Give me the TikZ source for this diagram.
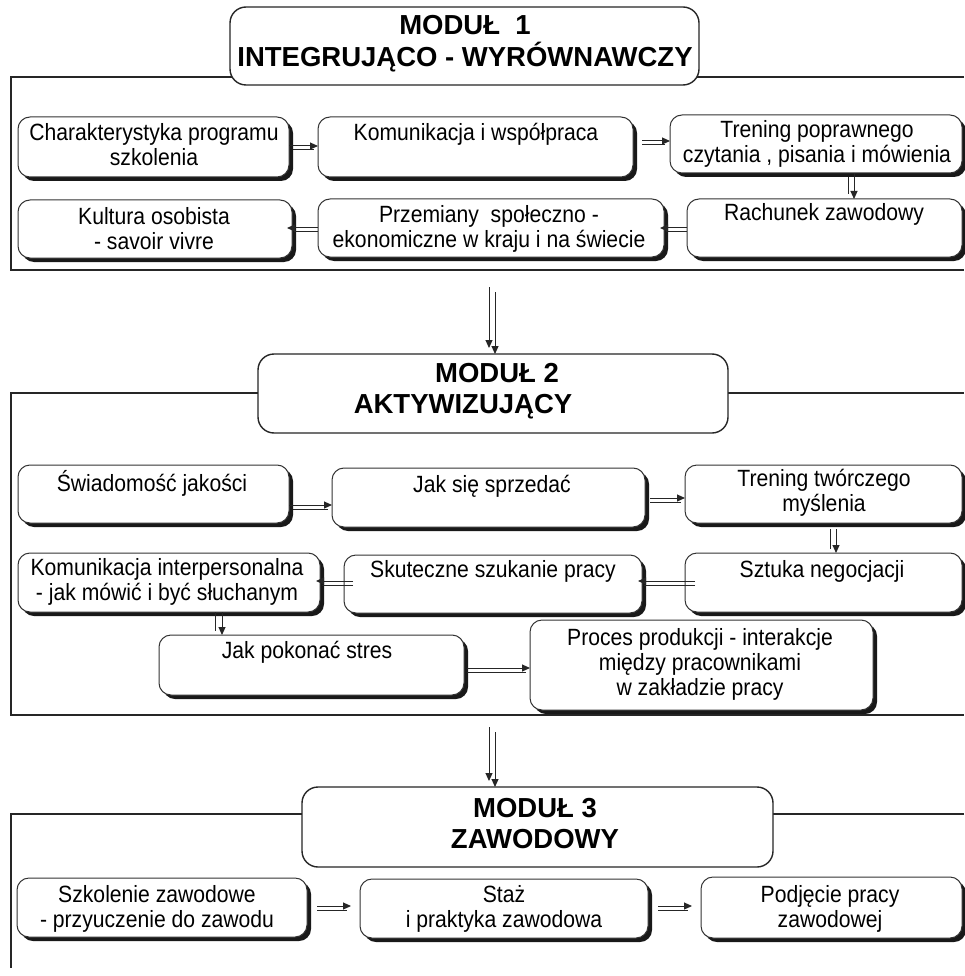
\documentclass[tikz,border=0pt]{standalone}
\usepackage{fontspec}
\setmainfont{Liberation Sans}
\newfontfamily\narrowfont{Liberation Sans}[FakeStretch=0.9]
\usetikzlibrary{shadows,arrows.meta}
\tikzset{
 box/.style={draw=black!80, line width=1pt, rounded corners=12pt, fill=white, inner sep=0pt, outer sep=0pt,
   drop shadow={shadow xshift=4pt, shadow yshift=-4pt, fill=black!90, opacity=1}},
 tbox/.style={draw=black!85, line width=1.4pt, rounded corners=16pt, fill=white, inner sep=0pt, outer sep=0pt},
 txt/.style={inner sep=0pt, align=center, font=\narrowfont\fontsize{23.5}{25}\selectfont},
 ttl/.style={inner sep=0pt, anchor=base, font=\bfseries\fontsize{27.5}{32}\selectfont},
 frm/.style={draw=black!85, line width=1.8pt},
 arr/.style={draw=black!85, line width=1pt, -{Triangle[length=8pt,width=7pt]}},
 ln/.style={draw=black!85, line width=1pt},
}
\newcommand{\bx}[8]{%
 \node[box, anchor=north west, minimum width={#4pt-#2pt}, minimum height={#5pt-#3pt}] (#1) at (#2,#3) {};
 \node[txt, anchor=north] (#1t) at (#6,#7-17.5) {\strut #8};}
\begin{document}
\begin{tikzpicture}[x=1pt,y=-1pt]
\useasboundingbox[fill=white] (0,0) rectangle (964,976);
% frames
\draw[frm] (964,77) -- (11,77) -- (11,270) -- (964,270);
\draw[frm] (964,393) -- (11,393) -- (11,715) -- (964,715);
\draw[frm] (964,814) -- (11,814) -- (11,968);
% titles
\node[tbox, anchor=north west, minimum width=469pt, minimum height=78pt] (t1) at (230,7) {};
\node[ttl] (t1a) at (465,35) {MODUŁ\ \ 1};
\node[ttl] (t1b) at (465,67) {INTEGRUJĄCO - WYRÓWNAWCZY};
\node[tbox, anchor=north west, minimum width=470pt, minimum height=79pt] (t2) at (258,354) {};
\node[ttl] (t2a) at (497,382) {MODUŁ 2};
\node[ttl] (t2b) at (463,413) {AKTYWIZUJĄCY};
\node[tbox, anchor=north west, minimum width=471pt, minimum height=80pt] (t3) at (302,787) {};
\node[ttl] (t3a) at (535,817) {MODUŁ 3};
\node[ttl] (t3b) at (535,848) {ZAWODOWY};
% module 1
\bx{a}{18}{117}{289}{177}{154}{140}{Charakterystyka programu\\szkolenia}
\bx{b}{318}{117}{633}{177}{476}{140}{Komunikacja i współpraca}
\bx{c}{670}{115}{962}{173}{817}{137}{Trening poprawnego\\czytania , pisania i mówienia}
\bx{d}{18}{200}{292}{258}{154}{224}{Kultura osobista\\- savoir vivre}
\bx{e}{318}{199}{664}{257}{489}{222}{Przemiany\ \ społeczno -\\ekonomiczne w kraju i na świecie}
\bx{f}{687}{199}{962}{257}{824}{220}{Rachunek zawodowy}
% module 2
\bx{g}{18}{465}{289}{523}{152}{488}{Świadomość jakości}
\bx{h}{332}{468}{645}{527}{492}{492}{Jak się sprzedać}
\bx{i}{685}{465}{962}{523}{824}{486}{Trening twórczego\\myślenia}
\bx{j}{18}{553}{320}{612}{167}{575}{Komunikacja interpersonalna\\- jak mówić i być słuchanym}
\bx{k}{344}{555}{642}{613}{493}{577}{Skuteczne szukanie pracy}
\bx{l}{685}{553}{962}{612}{822}{577}{Sztuka negocjacji}
\bx{m}{159}{635}{464}{695}{307}{658}{Jak pokonać stres}
\bx{n}{530}{620}{873}{710}{700}{645}{Proces produkcji - interakcje\\między pracownikami\\w zakładzie pracy}
% module 3
\bx{o}{17}{878}{307}{937}{157}{902}{Szkolenie zawodowe\\- przyuczenie do zawodu}
\bx{p}{360}{879}{648}{938}{504}{902}{Staż\\i praktyka zawodowa}
\bx{q}{701}{877}{962}{938}{830}{902}{Podjęcie pracy\\zawodowej}
% arrows module 1
\draw[arr] (a.east |- 0,146) -- (b.west |- 0,146);
\draw[ln, shorten <=4pt, shorten >=4pt] (a.east |- 0,150) -- (b.west |- 0,150);
\draw[arr, shorten <=9pt] (b.east |- 0,141) -- (c.west |- 0,141);
\draw[ln, shorten <=9pt, shorten >=5pt] (b.east |- 0,145) -- (c.west |- 0,145);
\draw[arr] (c.south -| 854,0) -- (f.north -| 854,0);
\draw[ln, shorten <=4pt, shorten >=5pt] (c.south -| 848,0) -- (f.north -| 848,0);
\draw[arr, shorten >=-4pt] (f.west |- 0,228) -- (e.east |- 0,228);
\draw[ln, shorten >=2pt] (f.west |- 0,232) -- (e.east |- 0,232);
\draw[arr, shorten >=-5pt] (e.west |- 0,228) -- (d.east |- 0,228);
\draw[ln, shorten >=2pt] (e.west |- 0,232) -- (d.east |- 0,232);
% arrows module 2
\draw[arr] (g.east |- 0,505) -- (h.west |- 0,505);
\draw[ln, shorten <=4pt, shorten >=4pt] (g.east |- 0,509) -- (h.west |- 0,509);
\draw[arr, shorten <=5pt] (h.east |- 0,498) -- (i.west |- 0,498);
\draw[ln, shorten <=5pt, shorten >=4pt] (h.east |- 0,502) -- (i.west |- 0,502);
\draw[arr, shorten <=6pt] (i.south -| 836,0) -- (l.north -| 836,0);
\draw[ln, shorten <=6pt, shorten >=4pt] (i.south -| 830,0) -- (l.north -| 830,0);
\draw[arr, shorten >=-4pt, shorten <=-10pt] (l.west |- 0,581) -- (k.east |- 0,581);
\draw[ln, shorten >=2pt, shorten <=-10pt] (l.west |- 0,585) -- (k.east |- 0,585);
\draw[arr, shorten >=-4pt, shorten <=-9pt] (k.west |- 0,581) -- (j.east |- 0,581);
\draw[ln, shorten >=2pt, shorten <=-9pt] (k.west |- 0,585) -- (j.east |- 0,585);
\draw[arr] (j.south -| 222,0) -- (m.north -| 222,0);
\draw[ln, shorten >=4pt] (j.south -| 215,0) -- (m.north -| 215,0);
\draw[arr, shorten <=3pt] (m.east |- 0,668) -- (n.west |- 0,668);
\draw[ln, shorten <=3pt, shorten >=4pt] (m.east |- 0,672) -- (n.west |- 0,672);
% arrows module 3
\draw[arr, shorten <=10pt, shorten >=9pt] (o.east |- 0,906) -- (p.west |- 0,906);
\draw[ln, shorten <=10pt, shorten >=13pt] (o.east |- 0,910) -- (p.west |- 0,910);
\draw[arr, shorten <=10pt, shorten >=9pt] (p.east |- 0,906) -- (q.west |- 0,906);
\draw[ln, shorten <=10pt, shorten >=13pt] (p.east |- 0,910) -- (q.west |- 0,910);
% arrows between modules
\coordinate (s1a) at (489,287);
\coordinate (s1b) at (495,292);
\draw[arr, shorten >=6pt] (s1a) -- (s1a |- t2.north);
\draw[arr] (s1b) -- (s1b |- t2.north);
\coordinate (s2a) at (489,727);
\coordinate (s2b) at (495,732);
\draw[arr, shorten >=6pt] (s2a) -- (s2a |- t3.north);
\draw[arr] (s2b) -- (s2b |- t3.north);
\end{tikzpicture}
\end{document}
